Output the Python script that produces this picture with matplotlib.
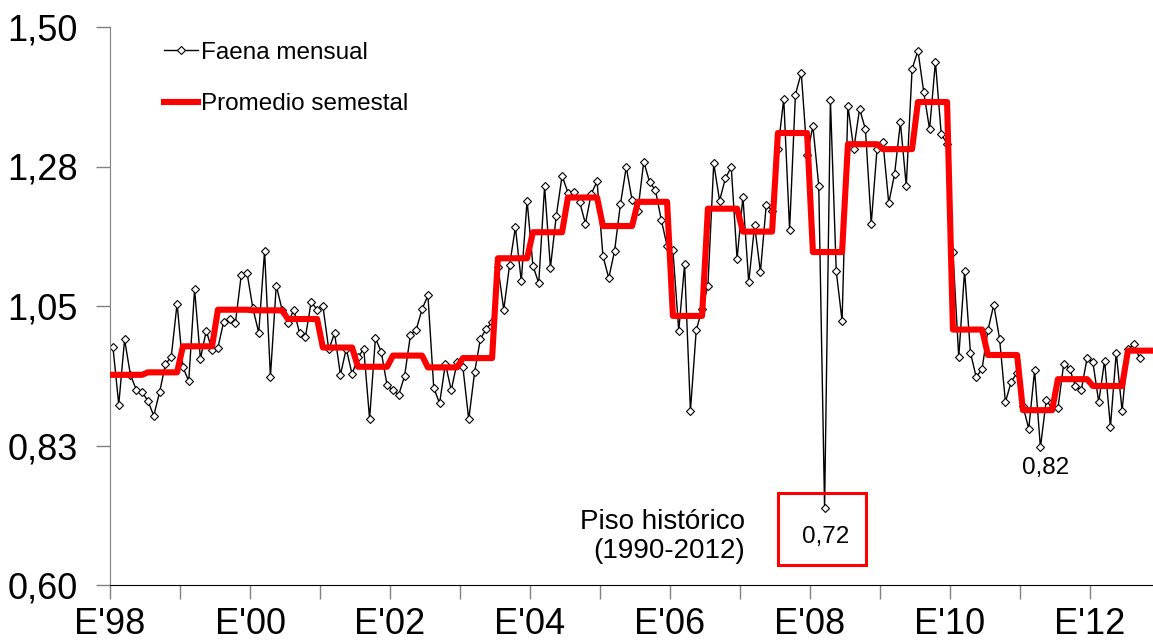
#Faena mensual y promedio semestral, 1998-2012

#import required libraries
import numpy as np
import matplotlib
matplotlib.use('Agg')
import matplotlib.pyplot as plt
from matplotlib.patches import Rectangle

plt.rcParams['font.family'] = ['Liberation Sans', 'DejaVu Sans']

#monthly values (Jan 1998 - Sep 2012)
faena = [
    0.984, 0.891, 0.996, 0.939, 0.915, 0.911, 0.897, 0.873, 0.911, 0.956, 0.968, 1.054,  # 1998
    0.951, 0.929, 1.077, 0.965, 1.010, 0.979, 0.983, 1.025, 1.029, 1.023, 1.100, 1.103,  # 1999
    1.046, 1.007, 1.139, 0.936, 1.083, 1.044, 1.022, 1.044, 1.006, 1.000, 1.057, 1.044,  # 2000
    1.050, 0.980, 1.006, 0.939, 0.981, 0.940, 0.967, 0.981, 0.868, 0.998, 0.976, 0.922,  # 2001
    0.914, 0.907, 0.937, 1.003, 1.012, 1.045, 1.067, 0.918, 0.893, 0.957, 0.914, 0.959,  # 2002
    0.951, 0.867, 0.943, 0.997, 1.013, 1.024, 1.113, 1.044, 1.116, 1.177, 1.090, 1.220,  # 2003
    1.115, 1.087, 1.243, 1.112, 1.195, 1.260, 1.233, 1.234, 1.218, 1.183, 1.231, 1.251,  # 2004
    1.131, 1.095, 1.139, 1.214, 1.274, 1.221, 1.204, 1.283, 1.250, 1.237, 1.189, 1.147,  # 2005
    1.140, 1.010, 1.117, 0.881, 1.011, 1.045, 1.083, 1.280, 1.220, 1.256, 1.274, 1.126,  # 2006
    1.226, 1.088, 1.180, 1.105, 1.213, 1.204, 1.303, 1.384, 1.173, 1.391, 1.426, 1.294,  # 2007
    1.340, 1.244, 0.724, 1.382, 1.106, 1.026, 1.373, 1.303, 1.368, 1.335, 1.183, 1.304,  # 2008
    1.315, 1.216, 1.263, 1.346, 1.244, 1.432, 1.462, 1.395, 1.335, 1.444, 1.327, 1.312,  # 2009
    1.137, 0.967, 1.107, 0.975, 0.935, 0.949, 1.011, 1.052, 0.997, 0.895, 0.928, 0.942,  # 2010
    0.889, 0.852, 0.946, 0.822, 0.898, 0.885, 0.885, 0.957, 0.949, 0.921, 0.914, 0.966,  # 2011
    0.959, 0.895, 0.962, 0.855, 0.975, 0.881, 0.980, 0.988, 0.966,                      # 2012
]

#semester averages (red line), H1 1998 - H2 2012
semestral = [0.939, 0.943, 0.985, 1.044, 1.043, 1.029, 0.983, 0.952, 0.970, 0.951,
             0.966, 1.127, 1.169, 1.225, 1.179, 1.218, 1.034, 1.207, 1.170, 1.329,
             1.137, 1.311, 1.303, 1.379, 1.012, 0.971, 0.882, 0.932, 0.921, 0.978]

years = list(range(1998, 2013))
year_labels = ["E'%02d" % (y % 100) if (y - 1998) % 2 == 0 else '' for y in years]
ytick_vals = [0.60, 0.825, 1.05, 1.275, 1.50]
ytick_labels = ['0,60', '0,83', '1,05', '1,28', '1,50']

#build monthly x positions
x_faena = np.arange(len(faena))
prom = np.repeat(semestral, 6)
x_prom = np.arange(len(prom))

fig = plt.figure(figsize=(11.53, 6.42), dpi=100)
ax = fig.add_axes([110/1153, 57/642, 1043/1153, 558/642])

ax.plot(x_faena, faena, color='black', lw=1.0, marker='D', ms=3.8,
        mfc='white', mec='black', mew=0.8, label='Faena mensual', zorder=2)
ax.plot(x_prom, prom, color='#ff0000', lw=4.4, label='Promedio semestal', zorder=3)

#axes limits and ticks
ax.set_xlim(-0.5, 178.3)
ax.set_ylim(0.60, 1.50)
ax.set_xticks([12 * k - 0.5 for k in range(len(years))])
ax.set_xticklabels(year_labels)
ax.set_yticks(ytick_vals)
ax.set_yticklabels(ytick_labels)
ax.tick_params(axis='x', direction='out', length=10, width=1, color='#808080',
               labelsize=26, pad=6)
ax.tick_params(axis='y', direction='out', length=10, width=1, color='#808080',
               labelsize=26, pad=13)

for s in ['top', 'right']:
    ax.spines[s].set_visible(False)
ax.spines['left'].set_color('#808080')
ax.spines['bottom'].set_color('black')

#legend
ax.legend(loc='upper left', bbox_to_anchor=(0.052, 0.974), frameon=False,
          fontsize=17.5, handlelength=1.4, handletextpad=0.1, labelspacing=1.22,
          borderaxespad=0, borderpad=0)

#annotations
ax.text(108.3, 0.702, 'Piso histórico', ha='right', va='center', fontsize=20)
ax.text(108.3, 0.655, '(1990-2012)', ha='right', va='center', fontsize=20)
ax.add_patch(Rectangle((114.0, 0.632), 15.1, 0.116, fill=False, ec='#ff0000', lw=2.2,
                       zorder=4))
ax.text(122.2, 0.677, '0,72', ha='center', va='center', fontsize=17.5)
ax.text(159.8, 0.789, '0,82', ha='center', va='center', fontsize=17.5)

plt.savefig('out.png', dpi=100)
